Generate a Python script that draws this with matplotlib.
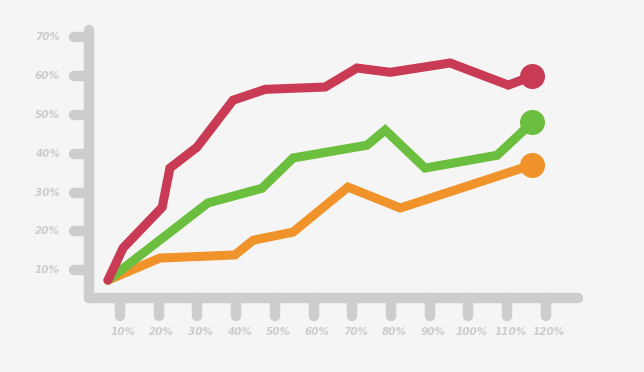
import matplotlib
matplotlib.use('Agg')
import matplotlib.pyplot as plt
from matplotlib.transforms import blended_transform_factory

# values (percent)
red_x = [6.9, 10.8, 20.9, 22.9, 29.9, 39.2, 47.5, 63.0, 71.2, 79.8, 95.3, 110.3, 116.5]
red_y = [7.4, 15.7, 26.2, 36.3, 41.7, 53.8, 56.6, 57.2, 62.1, 61.0, 63.4, 57.7, 60.0]

green_x = [6.9, 32.7, 46.7, 54.7, 73.8, 78.5, 88.8, 107.4, 116.5]
green_y = [7.4, 27.3, 31.1, 38.9, 42.2, 46.1, 36.3, 39.6, 48.1]

orange_x = [6.9, 20.3, 39.7, 44.4, 54.7, 68.9, 82.4, 113.9, 116.5]
orange_y = [7.4, 13.1, 13.9, 17.7, 19.8, 31.4, 26.0, 36.3, 37.1]

xticks = [10, 20, 30, 40, 50, 60, 70, 80, 90, 100, 110, 120]
yticks = [10, 20, 30, 40, 50, 60, 70]

bg = '#f5f5f5'
axis_col = '#cdcdcd'
label_col = '#cccccc'

fig = plt.figure(figsize=(6.44, 3.72), dpi=100, facecolor=bg)
ax = fig.add_axes([0.1382, 0.1989, 0.7593, 0.7204], facecolor=bg)
ax.set_xlim(2.0, 128.3)
ax.set_ylim(2.8, 71.9)

for s in ['top', 'right']:
    ax.spines[s].set_visible(False)
for s in ['left', 'bottom']:
    ax.spines[s].set_color(axis_col)
    ax.spines[s].set_linewidth(7.5)
    ax.spines[s].set_capstyle('round')

ax.set_xticks([])
ax.set_yticks([])

# tick stubs with round ends
tx = blended_transform_factory(ax.transData, ax.transAxes)
ty = blended_transform_factory(ax.transAxes, ax.transData)
for v in xticks:
    ax.plot([v, v], [-0.067, 0], transform=tx, color=axis_col, lw=7.5,
            solid_capstyle='round', clip_on=False, zorder=1)
    ax.text(v + 0.8, -0.127, f'{v}%', transform=tx, ha='center', va='center',
            fontsize=7.5, fontweight='bold', fontstyle='italic', color=label_col)
for v in yticks:
    ax.plot([-0.031, 0], [v, v], transform=ty, color=axis_col, lw=7.5,
            solid_capstyle='round', clip_on=False, zorder=1)
    ax.text(-0.06, v, f'{v}%', transform=ty, ha='right', va='center',
            fontsize=7.5, fontweight='bold', fontstyle='italic', color=label_col)

series = [
    (orange_x, orange_y, '#f0932b'),
    (green_x, green_y, '#6cbf3e'),
    (red_x, red_y, '#c93b55'),
]
for xs, ys, c in series:
    ax.plot(xs, ys, color=c, lw=6.5, solid_capstyle='round',
            solid_joinstyle='miter', clip_on=False, zorder=3)
    ax.plot(xs[-1], ys[-1], 'o', color=c, markersize=17, clip_on=False, zorder=4)

fig.savefig('out.png', dpi=100, facecolor=bg)
